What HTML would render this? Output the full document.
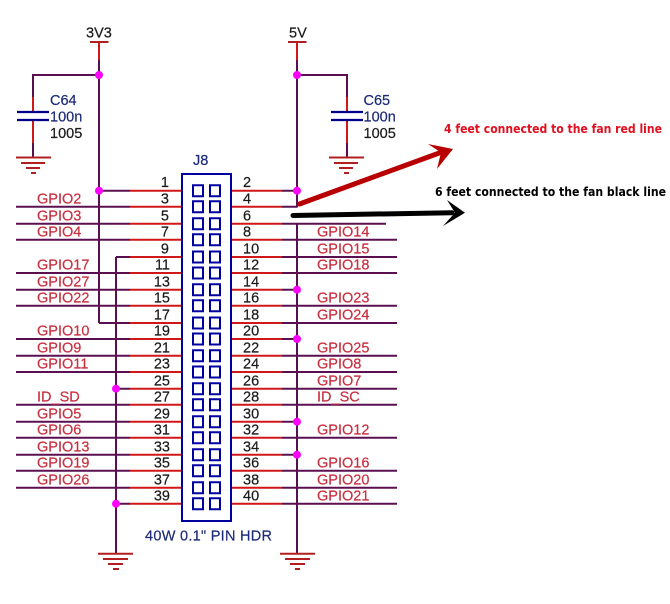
<!DOCTYPE html>
<html>
<head>
<meta charset="utf-8">
<style>
html,body{margin:0;padding:0;background:#fff}
svg{display:block}
text{font-family:"Liberation Sans",sans-serif;font-size:14.5px}
.l{fill:#c83040;stroke:#c83040;stroke-width:.2}
.n{fill:#1a1a1a;stroke:#1a1a1a;stroke-width:.2}
.b{fill:#1c2a78;stroke:#1c2a78;stroke-width:.2}
.r{stroke:#d01818;stroke-width:2;fill:none}
.p{stroke:#5a1050;stroke-width:2;fill:none}
.c{stroke:#00008b;stroke-width:2.200;fill:none}
.g{stroke:#b02020;stroke-width:2;fill:none}
.a{font-family:"DejaVu Sans",sans-serif;font-size:12px;font-weight:bold}
</style>
</head>
<body>
<svg width="670" height="604" viewBox="0 0 670 604" xmlns="http://www.w3.org/2000/svg">
<!-- left wires: red portion -->
<path class="r" d="M130 190.7H182M130 206.7H182M130 223.7H182M130 239.7H182M130 257H182M130 273H182M130 289.7H182M130 305.7H182M130 323H182M130 339H182M130 355.7H182M130 372H182M130 388.7H182M130 404.7H182M130 421.7H182M130 437.7H182M130 454.7H182M130 470.7H182M130 487.7H182M130 503.7H182"/>
<!-- left wires: purple portion -->
<path class="p" d="M99 190.7H130M16 206.7H130M16 223.7H130M16 239.7H130M116 257H130M16 273H130M16 289.7H130M16 305.7H130M99 323H130M16 339H130M16 355.7H130M16 372H130M116 388.7H130M16 404.7H130M16 421.7H130M16 437.7H130M16 454.7H130M16 470.7H130M16 487.7H130M116 503.7H130"/>
<!-- right wires: red portion -->
<path class="r" d="M231 190.7H282M231 206.7H282M231 223.7H282M231 239.7H282M231 257H282M231 273H282M231 289.7H282M231 305.7H282M231 323H282M231 339H282M231 355.7H282M231 372H282M231 388.7H282M231 404.7H282M231 421.7H282M231 437.7H282M231 454.7H282M231 470.7H282M231 487.7H282M231 503.7H282"/>
<!-- right wires: purple portion -->
<path class="p" d="M282 190.7H297M282 206.7H297M282 223.7H386M282 239.7H397M282 257H397M282 273H397M282 289.7H297M282 305.7H397M282 323H397M282 339H297M282 355.7H397M282 372H397M282 388.7H397M282 404.7H397M282 421.7H297M282 437.7H397M282 454.7H297M282 470.7H397M282 487.7H397M282 503.7H397"/>
<!-- buses -->
<path class="r" d="M99 42V60M297 42V60"/>
<path class="p" d="M99 60V323M297 60V207.5M297 223.7V553M116 257V553"/>
<path class="p" d="M99 75H33V97M297 75H347V97"/>
<path class="r" d="M33 97V112M33 120V143M347 97V112M347 120V143"/>
<path class="p" d="M33 143V157M347 143V157"/>
<!-- T bars -->
<path class="g" d="M90 42H108.500M288 42H306.500"/>
<!-- capacitors -->
<path class="c" d="M17 112H49M17 120H49M331 112H363M331 120H363"/>
<!-- grounds -->
<path class="g" d="M16 157.500H51M21 163H45M26 168H40M31 173H36"/>
<path class="g" d="M329 157.500H364M334 163H358M339 168H353M344 173H349"/>
<path class="g" d="M98 553.700H133M103 559H128M108 564H123M113 569H119"/>
<path class="g" d="M280 553.700H315M285 559H310M290 564H305M295 569H300"/>
<!-- junctions -->
<g fill="#ff00ff">
<circle cx="99" cy="75" r="4"/><circle cx="99" cy="190.7" r="4"/>
<circle cx="297" cy="75" r="4"/><circle cx="297" cy="190.7" r="4"/>
<circle cx="297" cy="289.7" r="4"/><circle cx="297" cy="339" r="4"/>
<circle cx="297" cy="421.7" r="4"/><circle cx="297" cy="454.7" r="4"/>
<circle cx="116" cy="388.7" r="4"/><circle cx="116" cy="503.7" r="4"/>
</g>
<!-- header box -->
<rect x="182" y="174" width="49" height="347" fill="#fff" stroke="#0000a0" stroke-width="2"/>
<g fill="none" stroke="#0000a0" stroke-width="2">
<path d="M193 185.200h10v11h-10zM210 185.200h10v11h-10zM193 201.200h10v11h-10zM210 201.200h10v11h-10zM193 218.200h10v11h-10zM210 218.200h10v11h-10zM193 234.200h10v11h-10zM210 234.200h10v11h-10zM193 251.500h10v11h-10zM210 251.500h10v11h-10zM193 267.500h10v11h-10zM210 267.500h10v11h-10zM193 284.200h10v11h-10zM210 284.200h10v11h-10zM193 300.200h10v11h-10zM210 300.200h10v11h-10zM193 317.500h10v11h-10zM210 317.500h10v11h-10zM193 333.500h10v11h-10zM210 333.500h10v11h-10zM193 350.200h10v11h-10zM210 350.200h10v11h-10zM193 366.500h10v11h-10zM210 366.500h10v11h-10zM193 383.200h10v11h-10zM210 383.200h10v11h-10zM193 399.200h10v11h-10zM210 399.200h10v11h-10zM193 416.200h10v11h-10zM210 416.200h10v11h-10zM193 432.200h10v11h-10zM210 432.200h10v11h-10zM193 449.200h10v11h-10zM210 449.200h10v11h-10zM193 465.200h10v11h-10zM210 465.200h10v11h-10zM193 482.200h10v11h-10zM210 482.200h10v11h-10zM193 498.200h10v11h-10zM210 498.200h10v11h-10z"/>
</g>
<!-- top labels -->
<text class="n" x="86" y="37.700">3V3</text>
<text class="n" x="289" y="37.700">5V</text>
<text class="b" x="50" y="105">C64</text>
<text class="b" x="50" y="121.700">100n</text>
<text class="n" x="50" y="138">1005</text>
<text class="b" x="363.500" y="105">C65</text>
<text class="b" x="363.500" y="121.700">100n</text>
<text class="n" x="363.500" y="138">1005</text>
<text class="b" x="193" y="165">J8</text>
<text class="b" x="145" y="540.700" textLength="127">40W 0.1" PIN HDR</text>
<!-- left pin numbers -->
<g text-anchor="end">
<text class="n" x="169" y="187">1</text><text class="n" x="169" y="203.300">3</text><text class="n" x="169" y="220.300">5</text><text class="n" x="169" y="236.300">7</text><text class="n" x="169" y="253.600">9</text><text class="n" x="170" y="269.600">11</text><text class="n" x="170" y="286.300">13</text><text class="n" x="170" y="302.300">15</text><text class="n" x="170" y="319.600">17</text><text class="n" x="170" y="335.600">19</text><text class="n" x="170" y="352.300">21</text><text class="n" x="170" y="368.600">23</text><text class="n" x="170" y="385.300">25</text><text class="n" x="170" y="401.300">27</text><text class="n" x="170" y="418.300">29</text><text class="n" x="170" y="434.300">31</text><text class="n" x="170" y="451.300">33</text><text class="n" x="170" y="467.300">35</text><text class="n" x="170" y="484.300">37</text><text class="n" x="170" y="500.300">39</text>
</g>
<!-- right pin numbers -->
<g>
<text class="n" x="243" y="187">2</text><text class="n" x="243" y="203.300">4</text><text class="n" x="243" y="220.300">6</text><text class="n" x="243" y="236.300">8</text><text class="n" x="243" y="253.600">10</text><text class="n" x="243" y="269.600">12</text><text class="n" x="243" y="286.300">14</text><text class="n" x="243" y="302.300">16</text><text class="n" x="243" y="319.600">18</text><text class="n" x="243" y="335.600">20</text><text class="n" x="243" y="352.300">22</text><text class="n" x="243" y="368.600">24</text><text class="n" x="243" y="385.300">26</text><text class="n" x="243" y="401.300">28</text><text class="n" x="243" y="418.300">30</text><text class="n" x="243" y="434.300">32</text><text class="n" x="243" y="451.300">34</text><text class="n" x="243" y="467.300">36</text><text class="n" x="243" y="484.300">38</text><text class="n" x="243" y="500.300">40</text>
</g>
<!-- left GPIO labels -->
<g>
<text class="l" x="37" y="203.300">GPIO2</text><text class="l" x="37" y="220.300">GPIO3</text><text class="l" x="37" y="236.300">GPIO4</text><text class="l" x="37" y="269.600">GPIO17</text><text class="l" x="37" y="286.300">GPIO27</text><text class="l" x="37" y="302.300">GPIO22</text><text class="l" x="37" y="335.600">GPIO10</text><text class="l" x="37" y="352.300">GPIO9</text><text class="l" x="37" y="368.600">GPIO11</text><text class="l" x="37" y="401.300">ID_SD</text><text class="l" x="37" y="418.300">GPIO5</text><text class="l" x="37" y="434.300">GPIO6</text><text class="l" x="37" y="451.300">GPIO13</text><text class="l" x="37" y="467.300">GPIO19</text><text class="l" x="37" y="484.300">GPIO26</text>
</g>
<!-- right GPIO labels -->
<g>
<text class="l" x="317" y="236.300">GPIO14</text><text class="l" x="317" y="253.600">GPIO15</text><text class="l" x="317" y="269.600">GPIO18</text><text class="l" x="317" y="302.300">GPIO23</text><text class="l" x="317" y="319.600">GPIO24</text><text class="l" x="317" y="352.300">GPIO25</text><text class="l" x="317" y="368.600">GPIO8</text><text class="l" x="317" y="385.300">GPIO7</text><text class="l" x="317" y="401.300">ID_SC</text><text class="l" x="317" y="434.300">GPIO12</text><text class="l" x="317" y="467.300">GPIO16</text><text class="l" x="317" y="484.300">GPIO20</text><text class="l" x="317" y="500.300">GPIO21</text>
</g>
<!-- annotation arrows -->
<path d="M299.500 204L442 152" stroke="#b80000" stroke-width="5" stroke-linecap="round" fill="none"/>
<polygon points="453,149 428,144 441,152.500 437,169" fill="#b80000"/>
<path d="M293 215.500L452 212.700" stroke="#000" stroke-width="5" stroke-linecap="round" fill="none"/>
<polygon points="465,212.700 447,200 455,212.800 443,226" fill="#000"/>
<text class="a" x="444" y="133" fill="#e01020" textLength="218" lengthAdjust="spacingAndGlyphs">4 feet connected to the fan red line</text>
<text class="a" x="435" y="196" fill="#000" textLength="231" lengthAdjust="spacingAndGlyphs">6 feet connected to the fan black line</text>
</svg>
</body>
</html>
